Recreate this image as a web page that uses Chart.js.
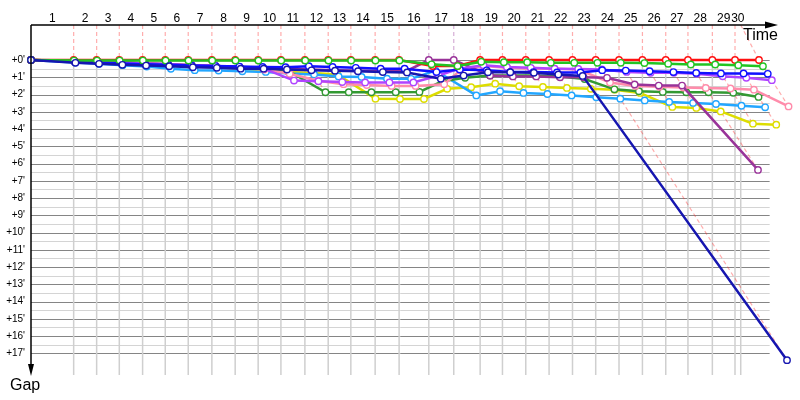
<!DOCTYPE html>
<html><head><meta charset="utf-8">
<script src="https://cdn.jsdelivr.net/npm/chart.js@4/dist/chart.umd.min.js"></script>
<style>html,body{margin:0;padding:0;background:#fff}#wrap{width:800px;height:400px}</style>
</head><body><div id="wrap"><canvas id="c" width="800" height="400"></canvas></div>
<script>
// ---- DATA ----
// lap numbers shown on the time axis
const lapLabels = ['1','2','3','4','5','6','7','8','9','10','11','12','13','14','15','16','17','18','19','20','21','22','23','24','25','26','27','28','29','30'];
// leader crossing time (minutes) at end of each lap; index 0 = start
const lapTimes = [0, 3.88, 5.97, 8.03, 10.15, 12.21, 14.30, 16.45, 18.57, 20.66, 22.73, 24.91, 27.03, 29.09, 31.30, 33.48, 36.18, 38.45, 40.85, 42.88, 45.00, 47.12, 49.25, 51.36, 53.48, 55.61, 57.73, 59.75, 61.97, 64.03, 66.21];
const timeAxisEnd = 64.55;   // last vertical grid line (minutes)
const gridRight = 67.18;     // right end of horizontal grid (minutes)
// leader of each lap (index = lap)
const lapLeader = ['red','red','red','red','red','red','red','red','red','red','red','red','red','red','red','red','purple','purple','red','red','red','red','red','red','red','red','red','red','red','red','red'];
// gap (minutes) per lap, index 0 = start
const red       = [0,0,0,0,0,0,0,0,0,0,0,0,0,0,0,0,0.35,0.35,0,0,0,0,0,0,0,0,0,0,0,0,0];
const green     = [0,0.03,0.03,0.03,0.03,0.03,0.03,0.03,0.03,0.03,0.03,0.03,0.03,0.03,0.03,0.03,0.25,0.35,0.1,0.13,0.13,0.16,0.16,0.16,0.16,0.18,0.22,0.26,0.26,0.3,0.36];
const blue      = [0,0.08,0.14,0.2,0.24,0.28,0.32,0.35,0.38,0.4,0.42,0.36,0.4,0.45,0.5,0.5,0.7,0.55,0.6,0.7,0.7,0.72,0.72,0.59,0.61,0.65,0.7,0.75,0.78,0.78,0.8];
const violet    = [0,0.05,0.1,0.15,0.2,0.25,0.3,0.35,0.4,0.5,1.19,1.23,1.28,1.3,1.3,1.3,0.9,0.5,0.3,0.4,0.45,0.5,0.52,0.55,0.69,0.74,0.74,0.8,0.94,1.03,1.17];
const pink      = [0,0.05,0.1,0.15,0.2,0.25,0.3,0.35,0.45,0.55,0.8,1.2,1.4,1.45,1.5,1.5,1.4,0.6,0.35,0.45,0.5,0.5,0.55,1.3,1.5,1.55,1.6,1.62,1.65,1.72,2.69];
const darkGreen = [0,0.05,0.1,0.15,0.2,0.25,0.3,0.35,0.4,0.5,0.6,1.87,1.87,1.87,1.87,1.85,1.23,1.03,0.9,0.9,0.9,0.95,1.1,1.7,1.81,1.85,1.87,1.87,1.9,2.14,null];
const skyBlue   = [0,0.15,0.22,0.3,0.38,0.51,0.59,0.61,0.65,0.69,0.78,0.84,0.95,0.98,1.08,1.09,0.61,2.05,1.81,1.91,1.97,2.05,2.16,2.24,2.34,2.43,2.49,2.55,2.65,2.74,null];
const yellow    = [0,0.05,0.1,0.15,0.2,0.3,0.35,0.4,0.5,0.6,0.7,0.75,0.84,2.24,2.26,2.26,1.67,1.58,1.37,1.52,1.56,1.62,1.67,1.72,1.91,2.72,2.78,2.98,3.69,3.75,null];
const purple    = [0,0.05,0.1,0.15,0.2,0.25,0.3,0.35,0.4,0.45,0.5,0.55,0.6,0.62,0.65,0.65,0,0,0.9,0.95,0.95,1.0,1.0,1.03,1.42,1.48,1.48,6.37,null,null,null];
const navy      = [0,0.16,0.22,0.28,0.32,0.36,0.42,0.45,0.5,0.5,0.55,0.6,0.62,0.65,0.7,0.72,1.09,0.9,0.71,0.71,0.74,0.84,0.92,17.4,null,null,null,null,null,null,null];
const gapTicks = [0,1,2,3,4,5,6,7,8,9,10,11,12,13,14,15,16,17];

// ---- STYLES ----  (first = drawn on top)
const drivers = [
  {name:'navy', gaps:navy, color:'#1616b0'},
  {name:'green', gaps:green, color:'#22c422'},
  {name:'red', gaps:red, color:'#ff1010'},
  {name:'blue', gaps:blue, color:'#1010ff'},
  {name:'violet', gaps:violet, color:'#b044ff'},
  {name:'purple', gaps:purple, color:'#993399'},
  {name:'pink', gaps:pink, color:'#ff8cab'},
  {name:'darkGreen', gaps:darkGreen, color:'#339933'},
  {name:'skyBlue', gaps:skyBlue, color:'#22a6ff'},
  {name:'yellow', gaps:yellow, color:'#dddd00'}
];
const leaderTint = {red:'rgba(255,40,40,0.38)', purple:'rgba(153,51,153,0.4)'};
const Y_MIN = -2.03, Y_MAX = 18.26, X_MAX = 69.45;

function pts(gaps){
  const out=[];
  gaps.forEach((g,n)=>{ if(g!==null) out.push({x:lapTimes[n]+g, y:g}); });
  return out;
}
const datasets=[];
drivers.forEach((d,i)=>{
  datasets.push({label:d.name, data:pts(d.gaps), borderColor:d.color, backgroundColor:'#fff',
    borderWidth:2.5, pointRadius:3.2, pointBorderWidth:1.4, pointBackgroundColor:'#fff',
    pointBorderColor:d.color, tension:0, clip:false, order:i+1});
});
// lap lines: connect each driver's crossing of the same lap
for(let n=1;n<lapTimes.length;n++){
  const t=lapTimes[n];
  const p=[];
  if(t<=timeAxisEnd){ p.push({x:t,y:Y_MIN},{x:t,y:0}); } else { p.push({x:timeAxisEnd,y:Y_MIN}); }
  const cross=[];
  drivers.forEach(d=>{ const g=d.gaps[n]; if(g!==null && g!==undefined) cross.push(g); });
  cross.sort((a,b)=>a-b).forEach(g=>p.push({x:t+g,y:g}));
  datasets.push({label:'lap'+n, data:p, borderColor:leaderTint[lapLeader[n]], borderWidth:1.2,
    borderDash:[4,3], pointRadius:0, tension:0, clip:false, order:100});
}
const mids=[];
for(let n=1;n<=30;n++){ const a=lapTimes[n-1], b=Math.min(lapTimes[n], timeAxisEnd); mids.push((a+b)/2); }
const halfTicks=[]; for(let v=0; v<=17; v+=0.5) halfTicks.push(v);

const deco={id:'deco',
  beforeDatasetsDraw(chart){
    const {ctx, chartArea:ca, scales:{x,y}}=chart;
    ctx.save();
    const xl=ca.left, xr=x.getPixelForValue(gridRight);
    // horizontal grid: light at half minutes, dark at whole minutes
    halfTicks.forEach(v=>{
      const py=Math.round(y.getPixelForValue(v))+0.5;
      ctx.strokeStyle=Number.isInteger(v)?'#858585':'#d4d4d4'; ctx.lineWidth=1;
      ctx.beginPath(); ctx.moveTo(xl,py); ctx.lineTo(xr,py); ctx.stroke();
    });
    ctx.strokeStyle='#cfcfcf'; ctx.lineWidth=1.5;
    const y0=y.getPixelForValue(0);
    const vs=lapTimes.slice(1).filter(t=>t<=timeAxisEnd).concat([timeAxisEnd]);
    vs.forEach(t=>{ const px=x.getPixelForValue(t); ctx.beginPath(); ctx.moveTo(px,y0); ctx.lineTo(px,ca.bottom); ctx.stroke(); });
    ctx.restore();
  },
  afterDraw(chart){
    const {ctx, chartArea:ca}=chart;
    ctx.save(); ctx.strokeStyle='#000'; ctx.fillStyle='#000'; ctx.lineWidth=1.5;
    ctx.beginPath(); ctx.moveTo(ca.left,ca.top); ctx.lineTo(766,ca.top); ctx.stroke();
    ctx.beginPath(); ctx.moveTo(765,ca.top-3.5); ctx.lineTo(778,ca.top); ctx.lineTo(765,ca.top+3.5); ctx.closePath(); ctx.fill();
    ctx.beginPath(); ctx.moveTo(ca.left,ca.top); ctx.lineTo(ca.left,366); ctx.stroke();
    ctx.beginPath(); ctx.moveTo(ca.left-3,364); ctx.lineTo(ca.left,376); ctx.lineTo(ca.left+3,364); ctx.closePath(); ctx.fill();
    ctx.font='16px "Liberation Sans", Arial, sans-serif'; ctx.textBaseline='middle'; ctx.textAlign='left';
    ctx.fillText('Time',743,36);
    ctx.fillText('Gap',10,386);
    ctx.restore();
  }
};

Chart.defaults.font.family='"Liberation Sans", Arial, sans-serif';
new Chart(document.getElementById('c'),{
  type:'line',
  data:{datasets},
  options:{
    responsive:false, animation:false, devicePixelRatio:1,
    layout:{padding:{left:0,top:0,right:5,bottom:25}},
    plugins:{legend:{display:false}, tooltip:{enabled:false}},
    scales:{
      x:{type:'linear', position:'top', min:0, max:X_MAX,
        afterFit(s){ s.height=25; },
        afterBuildTicks(s){ s.ticks=mids.map(v=>({value:v})); },
        grid:{display:false, drawTicks:false}, border:{display:false},
        ticks:{autoSkip:false, maxRotation:0, color:'#000', font:{size:12}, padding:-1,
          callback:(v,i)=>lapLabels[i]}},
      y:{type:'linear', reverse:true, min:Y_MIN, max:Y_MAX,
        afterFit(s){ s.width=31; },
        afterBuildTicks(s){ s.ticks=halfTicks.map(v=>({value:v})); },
        grid:{display:false, drawTicks:false},
        border:{display:false},
        ticks:{autoSkip:false, color:'#000', font:{size:10}, padding:6,
          callback:(v)=>gapTicks.includes(v)?('+'+v+"'"):''}}
    }
  },
  plugins:[deco]
});
</script></body></html>
